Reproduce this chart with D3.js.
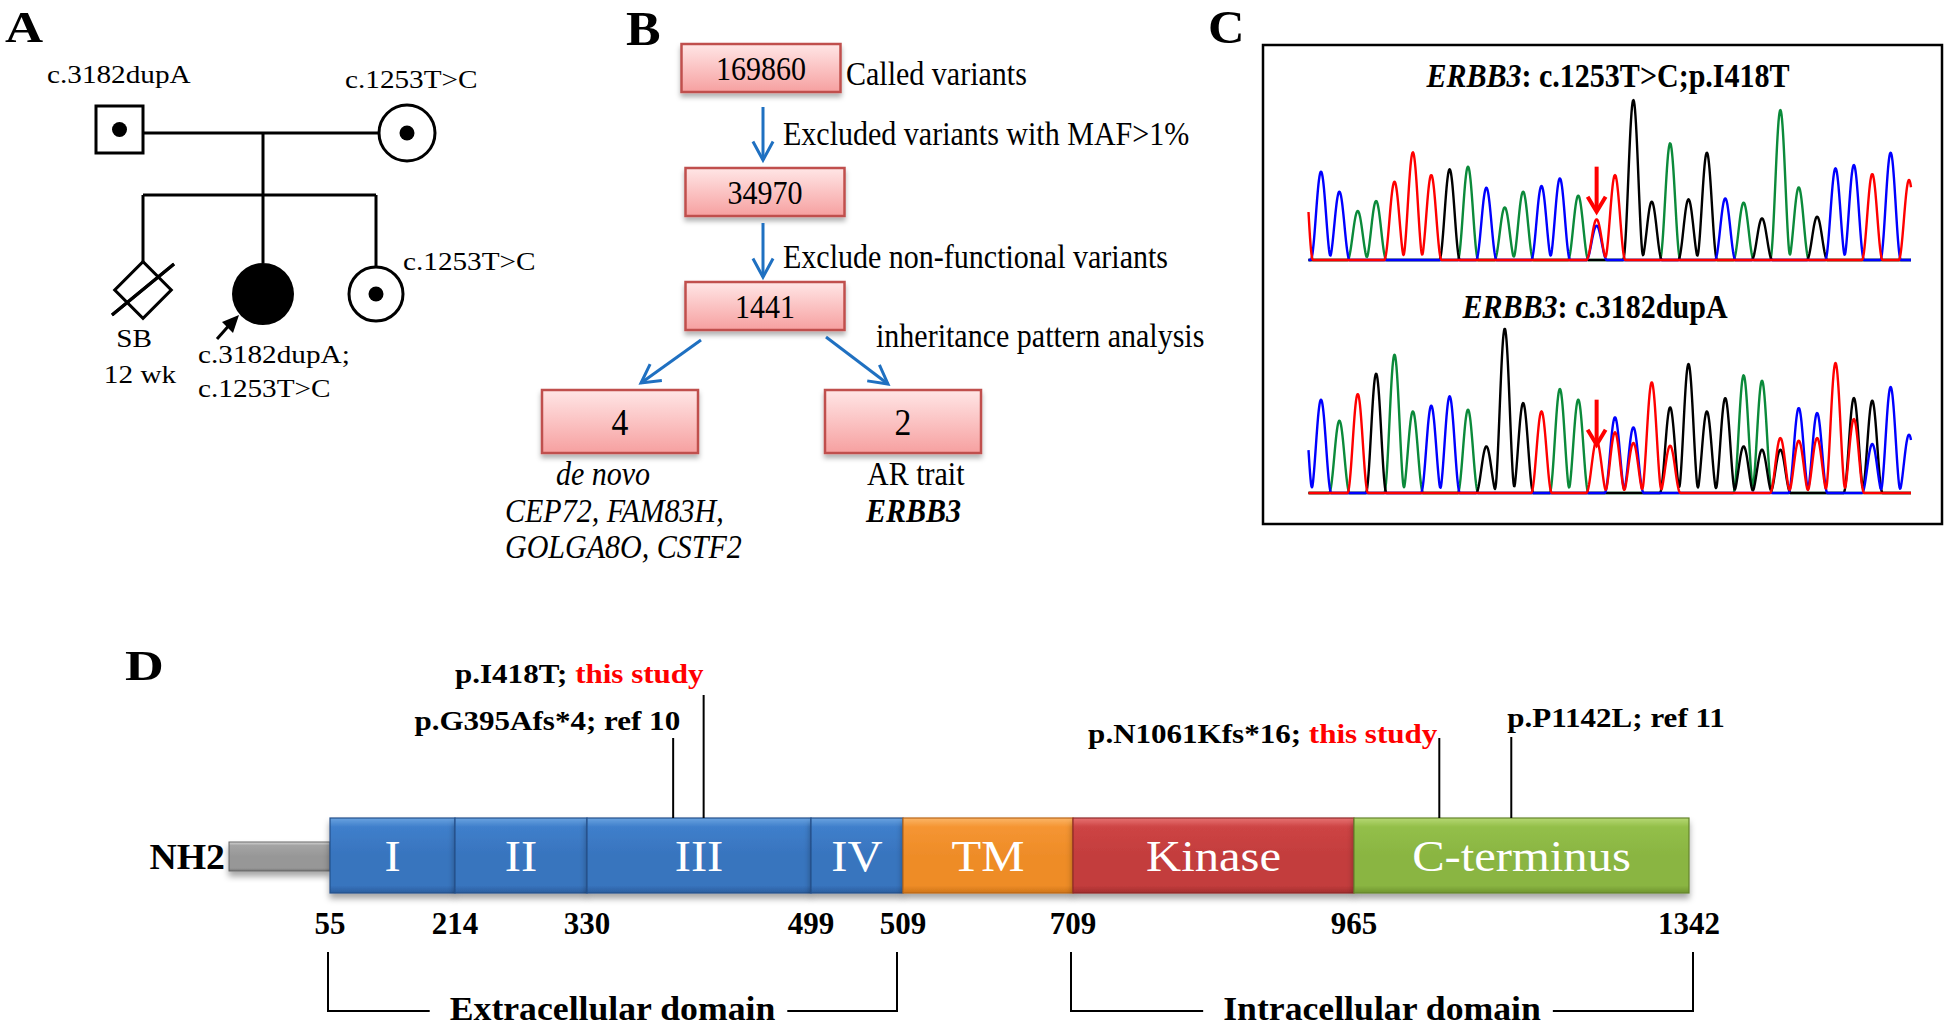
<!DOCTYPE html>
<html>
<head>
<meta charset="utf-8">
<script src="https://cdn.jsdelivr.net/npm/d3@7"></script>
<style>
  body { margin: 0; background: #fff; }
  svg { display: block; font-family: "Liberation Serif", "Times New Roman", serif; }
</style>
</head>
<body>
<svg id="fig" width="1946" height="1028"></svg>
<script>
// ---------- data ----------
// A: pedigree genotypes
var fatherGenotype = "c.3182dupA";
var motherGenotype = "c.1253T>C";
var sisterGenotype = "c.1253T>C";
var probandGenotype = ["c.3182dupA;", "c.1253T>C"];
var stillbirthLabel = ["SB", "12 wk"];

// B: filtering steps
var filterCounts = [169860, 34970, 1441];
var filterSteps = ["Called variants", "Excluded variants with MAF>1%", "Exclude non-functional variants", "inheritance pattern analysis"];
var branchCounts = [4, 2];
var branchModels = ["de novo", "AR trait"];
var branchGenes = [["CEP72, FAM83H,", "GOLGA8O, CSTF2"], ["ERBB3"]];

// C: chromatogram peaks [peak index, base, signal]
var traceGenes = ["ERBB3", "ERBB3"];
var traceVariants = [": c.1253T>C;p.I418T", ": c.3182dupA"];
var traceArrowAt = [15, 15];
var trace1 = [[-1,"T",370],[0,"C",265],[1,"C",205],[2,"A",147],[3,"A",177],[4,"T",235],[5,"T",323],[6,"T",255],
  [7,"G",272],[8,"A",280],[9,"C",217],[10,"A",158],[11,"A",205],[12,"C",222],[13,"C",245],[14,"A",193],
  [15,"T",122],[15,"C",103],[16,"T",255],[17,"G",480],[18,"G",175],[19,"A",350],[20,"G",182],[21,"G",322],
  [22,"C",185],[23,"A",172],[24,"G",125],[25,"A",450],[26,"A",218],[27,"G",130],[28,"C",275],[29,"C",285],
  [30,"T",258],[31,"C",322],[32,"T",240]];
var trace2 = [[-1,"C",330],[0,"C",280],[1,"A",217],[2,"T",297],[3,"G",358],[4,"A",415],[5,"A",245],[6,"C",262],
  [7,"C",290],[8,"A",250],[9,"G",140],[10,"G",493],[11,"G",270],[12,"T",245],[13,"A",312],[14,"A",280],
  [15,"T",157],[16,"C",227],[16,"T",182],[17,"C",197],[17,"T",150],[18,"T",332],[19,"G",257],[19,"T",142],
  [20,"G",387],[21,"G",245],[22,"G",285],[23,"A",353],[23,"G",140],[24,"A",337],[24,"G",130],[25,"T",165],
  [25,"G",130],[26,"C",255],[26,"T",157],[27,"C",240],[27,"T",165],[28,"T",390],[29,"G",285],[29,"T",222],
  [30,"G",277],[30,"C",147],[31,"C",318],[32,"C",175]];

// D: ERBB3 protein domains
var domainNames = ["I", "II", "III", "IV", "TM", "Kinase", "C-terminus"];
var domainBounds = [55, 214, 330, 499, 509, 709, 965, 1342];
var mutationPos = [418, 395, 1061, 1142];
var mutationNames = ["p.I418T; ", "p.G395Afs*4; ", "p.N1061Kfs*16; ", "p.P1142L; "];
var mutationSource = ["this study", "ref 10", "this study", "ref 11"];
var regionNames = ["Extracellular domain", "Intracellular domain"];
var regionSpans = [[55, 509], [709, 1342]];

// ---------- helpers ----------
var svg = d3.select("#fig");
var defs = svg.append("defs");

function label(parent, x, y, parts, o) {
  var t = parent.append("text")
    .attr("transform", "translate(" + x + "," + y + ") scale(" + (o.sx || 1) + ",1)")
    .attr("text-anchor", o.anchor || "start")
    .style("font-size", o.size + "px")
    .style("font-weight", o.weight || "normal")
    .style("font-style", o.style || "normal")
    .attr("fill", o.fill || "#000");
  if (typeof parts === "string") { t.text(parts); return t; }
  parts.forEach(function(p) {
    var s = t.append("tspan").text(p.t);
    if (p.style) s.style("font-style", p.style);
    if (p.weight) s.style("font-weight", p.weight);
    if (p.fill) s.attr("fill", p.fill);
  });
  return t;
}

function shadow(id, dy, sd, op) {
  defs.append("filter").attr("id", id).attr("x", "-10%").attr("y", "-20%").attr("width", "130%").attr("height", "160%")
    .append("feDropShadow").attr("dx", 0).attr("dy", dy).attr("stdDeviation", sd)
    .attr("flood-color", "#000").attr("flood-opacity", op);
}
shadow("boxShadow", 4, 2.5, 0.3);
shadow("barShadow", 5, 3, 0.35);

function vGrad(id, stops) {
  var g = defs.append("linearGradient").attr("id", id).attr("x1", 0).attr("y1", 0).attr("x2", 0).attr("y2", 1);
  stops.forEach(function(s) { g.append("stop").attr("offset", s[0]).attr("stop-color", s[1]); });
}

// ---------- panel A: pedigree ----------
var A = svg.append("g").attr("id", "panelA");
label(A, 5, 42, "A", {size: 44, weight: "bold", sx: 1.2});
var pedA = {size: 25, sx: 1.17};
A.selectAll("line.ped")
  .data([[143, 133, 379, 133], [263, 133, 263, 195], [143, 195, 376, 195],
         [143, 195, 143, 262], [263, 195, 263, 263], [376, 195, 376, 267], [112, 315, 174, 264]])
  .enter().append("line").attr("class", "ped")
  .attr("x1", function(d) { return d[0]; }).attr("y1", function(d) { return d[1]; })
  .attr("x2", function(d) { return d[2]; }).attr("y2", function(d) { return d[3]; })
  .attr("stroke", "#000").attr("stroke-width", 3);
A.append("rect").attr("x", 96).attr("y", 106).attr("width", 47).attr("height", 47)
  .attr("fill", "#fff").attr("stroke", "#000").attr("stroke-width", 3);
A.append("circle").attr("cx", 407).attr("cy", 133).attr("r", 28).attr("fill", "#fff").attr("stroke", "#000").attr("stroke-width", 3);
A.append("rect").attr("x", -20).attr("y", -20).attr("width", 40).attr("height", 40)
  .attr("transform", "translate(143,290) rotate(45)")
  .attr("fill", "none").attr("stroke", "#000").attr("stroke-width", 3);
A.append("line").attr("x1", 112).attr("y1", 315).attr("x2", 174).attr("y2", 264).attr("stroke", "#000").attr("stroke-width", 3);
A.append("circle").attr("cx", 263).attr("cy", 294).attr("r", 31).attr("fill", "#000");
A.append("circle").attr("cx", 376).attr("cy", 294).attr("r", 27).attr("fill", "#fff").attr("stroke", "#000").attr("stroke-width", 3);
A.selectAll("circle.carrier").data([[119.5, 129.5], [407, 133], [376, 294]])
  .enter().append("circle").attr("class", "carrier")
  .attr("cx", function(d) { return d[0]; }).attr("cy", function(d) { return d[1]; })
  .attr("r", 7.5).attr("fill", "#000");
// proband arrow
A.append("line").attr("x1", 217).attr("y1", 339).attr("x2", 232).attr("y2", 322).attr("stroke", "#000").attr("stroke-width", 3);
A.append("path").attr("d", "M239,315 L222,322 L233,333 Z").attr("fill", "#000");

label(A, 47, 83, fatherGenotype, pedA);
label(A, 345, 88, motherGenotype, pedA);
label(A, 403, 270, sisterGenotype, pedA);
label(A, 134, 347, stillbirthLabel[0], Object.assign({anchor: "middle"}, pedA));
label(A, 140, 383, stillbirthLabel[1], Object.assign({anchor: "middle"}, pedA));
probandGenotype.forEach(function(s, i) { label(A, 198, 363 + i * 34, s, pedA); });

// ---------- panel B: filtering flow ----------
var B = svg.append("g").attr("id", "panelB");
label(B, 626, 45, "B", {size: 48, weight: "bold", sx: 1.08});
vGrad("pinkFill", [[0, "#ffe6e6"], [0.5, "#fbc3c3"], [1, "#f6a0a0"]]);
var blue = "#1f70c1";
var txtB = {size: 33, sx: 0.91};

var mainBoxes = filterCounts.map(function(c, i) { return {n: c, cx: i === 0 ? 761 : 765, y: [44, 168, 282][i], w: 159, h: 48}; });
var sideBoxes = branchCounts.map(function(c, i) { return {n: c, cx: [620, 903][i], y: 390, w: 156, h: 63}; });
B.selectAll("rect.flow").data(mainBoxes.concat(sideBoxes)).enter().append("rect").attr("class", "flow")
  .attr("x", function(d) { return d.cx - d.w / 2; }).attr("y", function(d) { return d.y; })
  .attr("width", function(d) { return d.w; }).attr("height", function(d) { return d.h; })
  .attr("fill", "url(#pinkFill)").attr("stroke", "#c0504d").attr("stroke-width", 2.5)
  .attr("filter", "url(#boxShadow)");
mainBoxes.forEach(function(d) { label(B, d.cx, d.y + 36, String(d.n), Object.assign({anchor: "middle"}, txtB)); });
sideBoxes.forEach(function(d) { label(B, d.cx, d.y + 45, String(d.n), {anchor: "middle", size: 37, sx: 0.91}); });

label(B, 846, 85, filterSteps[0], txtB);
label(B, 783, 145, filterSteps[1], txtB);
label(B, 783, 268, filterSteps[2], txtB);
label(B, 876, 347, filterSteps[3], txtB);

function openArrow(g, x1, y1, x2, y2) {
  var a = Math.atan2(y2 - y1, x2 - x1), L = 21, s = 0.5;
  g.append("line").attr("x1", x1).attr("y1", y1).attr("x2", x2).attr("y2", y2)
    .attr("stroke", blue).attr("stroke-width", 3);
  g.append("path")
    .attr("d", "M" + (x2 - L * Math.cos(a - s)) + "," + (y2 - L * Math.sin(a - s)) + " L" + x2 + "," + y2 +
      " L" + (x2 - L * Math.cos(a + s)) + "," + (y2 - L * Math.sin(a + s)))
    .attr("fill", "none").attr("stroke", blue).attr("stroke-width", 3);
}
openArrow(B, 763, 107, 763, 160);
openArrow(B, 763, 223, 763, 277);
openArrow(B, 701, 340, 641, 383);
openArrow(B, 826, 337, 888, 384);

label(B, 603, 485, branchModels[0], Object.assign({anchor: "middle", style: "italic"}, txtB));
branchGenes[0].forEach(function(s, i) { label(B, 505, 522 + i * 36, s, Object.assign({style: "italic"}, txtB)); });
label(B, 867, 485, branchModels[1], txtB);
label(B, 866, 522, branchGenes[1][0], Object.assign({style: "italic", weight: "bold"}, txtB));

// ---------- panel C: chromatograms ----------
var C = svg.append("g").attr("id", "panelC");
label(C, 1208, 43, "C", {size: 46, weight: "bold", sx: 1.1});
C.append("rect").attr("x", 1263).attr("y", 45).attr("width", 679).attr("height", 479)
  .attr("fill", "#fff").attr("stroke", "#000").attr("stroke-width", 2.5);

var baseColor = {A: "#0b8a3a", C: "#0000ff", G: "#000000", T: "#ff0000"};
var drawOrder = ["A", "G", "C", "T"];
var xC = d3.scaleLinear().domain([0, 32]).range([1321, 1909]);
var traceLeft = 1308.5, traceRight = 1911;
var peakHalf = (xC(1) - xC(0)) * 0.56;
var traces = [
  {peaks: trace1, y: d3.scaleLinear().domain([0, 480]).range([260, 100]), title: 87, cx: 1608},
  {peaks: trace2, y: d3.scaleLinear().domain([0, 480]).range([493, 333]), title: 318, cx: 1595}
];
var line = d3.line();

traces.forEach(function(tr, ti) {
  label(C, tr.cx, tr.title, [{t: traceGenes[ti], style: "italic"}, {t: traceVariants[ti]}],
    {anchor: "middle", size: 33, weight: "bold", sx: 0.91});
  var xs = d3.range(traceLeft, traceRight + 0.01, 0.5);
  drawOrder.forEach(function(b) {
    var pk = tr.peaks.filter(function(p) { return p[1] === b; });
    var pts = xs.map(function(x) {
      var v = 0;
      pk.forEach(function(p) {
        var d = Math.abs(x - xC(p[0]));
        if (d < peakHalf) v += p[2] * Math.pow(Math.cos(Math.PI * d / (2 * peakHalf)), 2);
      });
      return [x, tr.y(v)];
    });
    C.append("path").attr("d", line(pts)).attr("fill", "none")
      .attr("stroke", baseColor[b]).attr("stroke-width", 2.4).attr("stroke-linejoin", "round");
  });
  // red arrow above the variant position
  var ax = xC(traceArrowAt[ti]), top = tr.y(280), tip = tr.y(145);
  C.append("line").attr("x1", ax).attr("y1", top).attr("x2", ax).attr("y2", tip - 3)
    .attr("stroke", "#ff0000").attr("stroke-width", 4);
  C.append("path").attr("d", "M" + (ax - 9) + "," + (tip - 15) + " L" + ax + "," + tip + " L" + (ax + 9) + "," + (tip - 15))
    .attr("fill", "none").attr("stroke", "#ff0000").attr("stroke-width", 4);
});

// ---------- panel D: protein domains ----------
var D = svg.append("g").attr("id", "panelD");
label(D, 125, 680, "D", {size: 43, weight: "bold", sx: 1.25});
var xD = d3.scaleLinear().domain(domainBounds).range([330, 455, 587, 811, 903, 1073, 1354, 1689]);
var barTop = 818, barH = 75;

var palette = [
  {id: "gBlue", c: ["#6aa3e0", "#3f7fcb", "#3874be", "#2b5e9e"], edge: "#23508a"},
  {id: "gOrange", c: ["#fbb567", "#f59532", "#ee8c28", "#cf7518"], edge: "#b9661a"},
  {id: "gRed", c: ["#e77272", "#cd4444", "#c33d3d", "#a32f2f"], edge: "#8e2a2a"},
  {id: "gGreen", c: ["#b6d873", "#93bf49", "#8ab542", "#6f9530"], edge: "#64842c"},
  {id: "gGray", c: ["#d6d6d6", "#a4a4a4", "#979797", "#767676"], edge: "#666"}
];
palette.forEach(function(p) {
  vGrad(p.id, [[0, p.c[0]], [0.12, p.c[1]], [0.5, p.c[2]], [0.9, p.c[2]], [1, p.c[3]]]);
});
var domainStyle = [0, 0, 0, 0, 1, 2, 3];

D.append("rect").attr("x", 229).attr("y", 842).attr("width", xD(55) - 229).attr("height", 29)
  .attr("fill", "url(#gGray)").attr("stroke", palette[4].edge).attr("stroke-width", 1)
  .attr("filter", "url(#barShadow)");
label(D, 225, 869, "NH2", {anchor: "end", size: 36, weight: "bold", sx: 1.05});

var domains = domainNames.map(function(n, i) { return {name: n, start: domainBounds[i], end: domainBounds[i + 1], s: palette[domainStyle[i]]}; });
D.selectAll("rect.dom").data(domains).enter().append("rect").attr("class", "dom")
  .attr("x", function(d) { return xD(d.start); }).attr("y", barTop)
  .attr("width", function(d) { return xD(d.end) - xD(d.start); }).attr("height", barH)
  .attr("fill", function(d) { return "url(#" + d.s.id + ")"; })
  .attr("stroke", function(d) { return d.s.edge; }).attr("stroke-width", 1.2)
  .attr("filter", "url(#barShadow)");
domains.forEach(function(d) {
  label(D, (xD(d.start) + xD(d.end)) / 2, 871, d.name, {anchor: "middle", size: 45, sx: 1.08, fill: "#fff"});
});

domainBounds.forEach(function(b) {
  label(D, xD(b), 934, String(b), {anchor: "middle", size: 31, weight: "bold"});
});

// mutation callouts: [label baseline, anchor, label dx, line top]
var calloutLayout = [[683, "end", 0, 695], [730, "end", 7, 738], [743, "end", -2, 738], [727, "start", -4, 737]];
mutationPos.forEach(function(p, i) {
  var x = xD(p), lay = calloutLayout[i];
  D.append("line").attr("x1", x).attr("x2", x).attr("y1", lay[3]).attr("y2", barTop)
    .attr("stroke", "#000").attr("stroke-width", 2);
  label(D, x + lay[2], lay[0],
    [{t: mutationNames[i]}, {t: mutationSource[i], fill: mutationSource[i] === "this study" ? "#ff0000" : "#000"}],
    {anchor: lay[1], size: 27, weight: "bold", sx: 1.15});
});

// extracellular / intracellular brackets
regionSpans.forEach(function(sp, i) {
  var x0 = xD(sp[0]) - 2, x1 = xD(sp[1]) - (i === 0 ? 6 : -4), yB = 1011, mid = (x0 + x1) / 2;
  var t = label(D, mid, 1020, regionNames[i], {anchor: "middle", size: 34, weight: "bold", sx: 1.05});
  var w = t.node().getBBox().width * 1.05;
  D.append("path")
    .attr("d", "M" + x0 + ",952 V" + yB + " H" + (mid - w / 2 - 20) +
      " M" + (mid + w / 2 + 12) + "," + yB + " H" + x1 + " V952")
    .attr("fill", "none").attr("stroke", "#000").attr("stroke-width", 2);
});
</script>
</body>
</html>
